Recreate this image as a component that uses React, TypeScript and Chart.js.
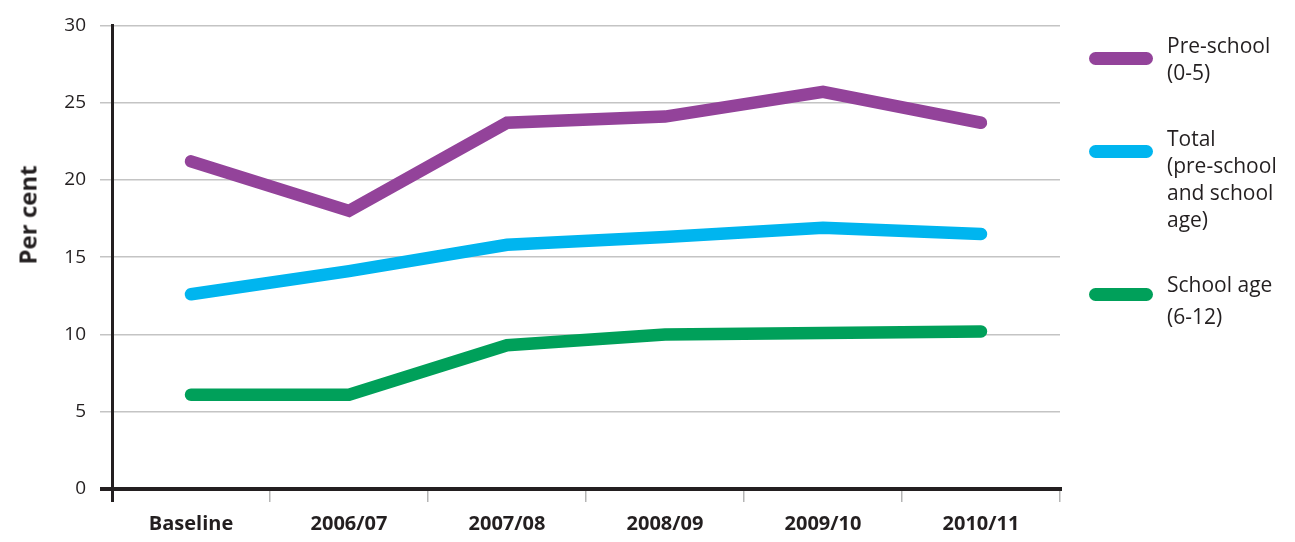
import React, { useEffect, useRef } from "react";
import { Chart, registerables } from "chart.js";

Chart.register(...registerables);

const categories = ["Baseline", "2006/07", "2007/08", "2008/09", "2009/10", "2010/11"];
const preSchool = [21.2, 18.0, 23.7, 24.1, 25.7, 23.7];
const total = [12.6, 14.1, 15.8, 16.3, 16.9, 16.5];
const schoolAge = [6.1, 6.1, 9.3, 10.0, 10.1, 10.2];
const yTicks = [0, 5, 10, 15, 20, 25, 30];
const yTitle = "Per cent";

const FONT = "'Open Sans', 'DejaVu Sans', sans-serif";
const INK = "#231f20";
const PURPLE = "#93439a";
const BLUE = "#00b5ef";
const GREEN = "#00a05a";

const legendItems = [
  { color: PURPLE, lines: ["Pre-school", "(0-5)"], top: 32 },
  { color: BLUE, lines: ["Total", "(pre-school", "and school", "age)"], top: 125 },
  { color: GREEN, lines: ["School age", "(6-12)"], top: 268 },
];

export default function App() {
  const ref = useRef<HTMLCanvasElement | null>(null);
  useEffect(() => {
    if (!ref.current) return;
    const ds = (label: string, data: number[], color: string) => ({
      label,
      data,
      borderColor: color,
      backgroundColor: color,
      borderWidth: 12.5,
      borderCapStyle: "round" as const,
      borderJoinStyle: "miter" as const,
      pointRadius: 0,
      tension: 0,
      fill: false,
    });
    const chart = new Chart(ref.current, {
      type: "line",
      data: {
        labels: categories,
        datasets: [
          ds("Pre-school (0-5)", preSchool, PURPLE),
          ds("Total (pre-school and school age)", total, BLUE),
          ds("School age (6-12)", schoolAge, GREEN),
        ],
      },
      options: {
        animation: false,
        responsive: false,
        maintainAspectRatio: false,
        layout: { padding: { left: 0, right: 235, top: 24, bottom: 0 } },
        plugins: { legend: { display: false }, tooltip: { enabled: false } },
        scales: {
          x: {
            type: "category",
            offset: true,
            afterFit: (s: any) => {
              s.height = 53;
            },
            grid: {
              display: true,
              drawOnChartArea: false,
              drawTicks: true,
              tickLength: 13,
              offset: true,
              color: (c: any) => (c.index === 0 ? INK : "#b5b5b5"),
              lineWidth: (c: any) => (c.index === 0 ? 3 : 1.5),
            },
            border: { display: true, color: INK, width: 4 },
            ticks: {
              color: INK,
              padding: 10,
              font: { family: FONT, size: 20, weight: "bold" },
              maxRotation: 0,
            },
          },
          y: {
            min: 0,
            max: 30,
            afterFit: (s: any) => {
              s.width = 112;
            },
            afterBuildTicks: (s: any) => {
              s.ticks = yTicks.map((v) => ({ value: v }));
            },
            grid: {
              color: (c: any) => (c.tick && c.tick.value === 0 ? INK : "#c4c4c4"),
              lineWidth: (c: any) => (c.tick && c.tick.value === 0 ? 4 : 1.5),
              tickLength: 12,
              drawTicks: true,
            },
            border: { display: true, color: INK, width: 3 },
            ticks: {
              color: INK,
              padding: 14,
              font: { family: FONT, size: 19 },
            },
            title: { display: false },
          },
        },
      },
    });
    return () => chart.destroy();
  }, []);

  return (
    <div style={{ position: "fixed", left: 0, top: 0, width: 1295, height: 542, background: "#fff" }}>
      <canvas ref={ref} width={1295} height={542} style={{ position: "absolute", left: 0, top: 0 }} />
      <div
        style={{
          position: "absolute",
          left: 27,
          top: 215,
          transform: "translate(-50%, -50%) rotate(-90deg)",
          fontFamily: FONT,
          fontSize: 24,
          fontWeight: "bold",
          color: INK,
          whiteSpace: "nowrap",
        }}
      >
        {yTitle}
      </div>
      {legendItems.map((it, i) => (
        <div key={i} style={{ position: "absolute", left: 1089, top: it.top }}>
          <div
            style={{
              position: "absolute",
              left: 0,
              top: 20,
              width: 64,
              height: 13,
              borderRadius: 7,
              background: it.color,
            }}
          />
          <div
            style={{
              position: "absolute",
              left: 78,
              top: 0,
              fontFamily: FONT,
              fontSize: 21,
              lineHeight: i === 2 ? "32px" : "27px",
              color: INK,
              whiteSpace: "nowrap",
            }}
          >
            {it.lines.map((l, j) => (
              <div key={j}>{l}</div>
            ))}
          </div>
        </div>
      ))}
    </div>
  );
}
